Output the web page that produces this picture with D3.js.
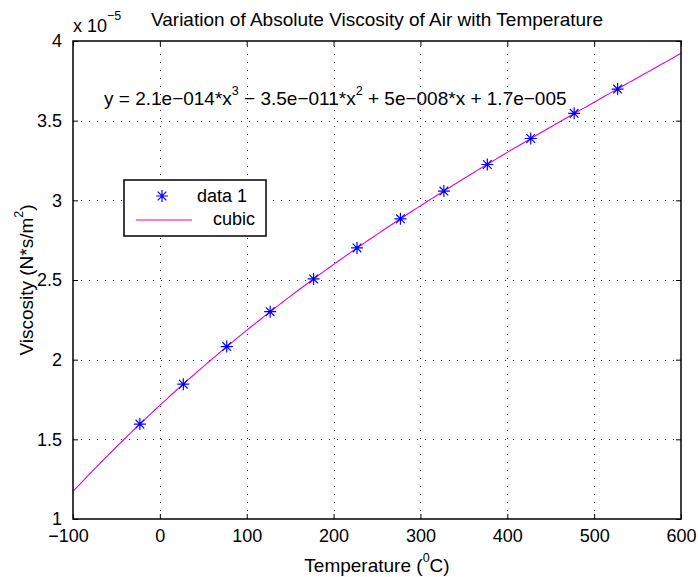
<!DOCTYPE html>
<html><head><meta charset="utf-8">
<script src="https://cdn.jsdelivr.net/npm/d3@7"></script>
<style>
html,body{margin:0;padding:0;background:#fff;}
svg{display:block;font-family:"Liberation Sans",Arial,Helvetica,sans-serif;}
</style></head>
<body>
<svg id="chart" width="698" height="577"></svg>
<script>
// Data (viscosity in units of 1e-5 N*s/m^2)
const temperatures = [-23, 27, 77, 127, 177, 227, 277, 327, 377, 427, 477, 527];
const viscosity = [1.596, 1.846, 2.082, 2.301, 2.507, 2.701, 2.884, 3.058, 3.225, 3.388, 3.546, 3.698];
const xTicks = [-100, 0, 100, 200, 300, 400, 500, 600];
const yTicks = [1, 1.5, 2, 2.5, 3, 3.5, 4];
const xDomain = [-100, 600];
const yDomain = [1, 4];
const titleText = "Variation of Absolute Viscosity of Air with Temperature";
const legendLabels = ["data 1", "cubic"];

// least squares cubic fit of the data (as MATLAB polyfit)
function polyfit(xs, ys, deg) {
  const n = deg + 1, s = 100;
  const A = Array.from({length: n}, () => new Array(n + 1).fill(0));
  xs.forEach((xv, k) => {
    const t = xv / s;
    for (let i = 0; i < n; i++) {
      for (let j = 0; j < n; j++) A[i][j] += Math.pow(t, i + j);
      A[i][n] += ys[k] * Math.pow(t, i);
    }
  });
  for (let i = 0; i < n; i++) {
    let p = i;
    for (let r = i + 1; r < n; r++) if (Math.abs(A[r][i]) > Math.abs(A[p][i])) p = r;
    [A[i], A[p]] = [A[p], A[i]];
    for (let r = 0; r < n; r++) {
      if (r === i) continue;
      const f = A[r][i] / A[i][i];
      for (let c = i; c <= n; c++) A[r][c] -= f * A[i][c];
    }
  }
  const coef = A.map((row, i) => row[n] / row[i]);
  return xv => coef.reduce((acc, c, i) => acc + c * Math.pow(xv / s, i), 0);
}
const cubic = polyfit(temperatures, viscosity, 3);

const svg = d3.select("#chart");
const m = {left: 73, right: 681, top: 41, bottom: 519};
const x = d3.scaleLinear().domain(xDomain).range([m.left, m.right]);
const y = d3.scaleLinear().domain(yDomain).range([m.bottom, m.top]);
const fs = 18, fsL = 19, sup = 12.5;

// grid
const grid = svg.append("g").attr("stroke", "#000").attr("stroke-width", 1)
  .attr("stroke-dasharray", "1,7").attr("opacity", 0.8);
xTicks.slice(1, -1).forEach(t => grid.append("line")
  .attr("x1", Math.round(x(t)) + 0.5).attr("x2", Math.round(x(t)) + 0.5)
  .attr("y1", m.bottom).attr("y2", m.top));
yTicks.slice(1, -1).forEach(t => grid.append("line")
  .attr("y1", Math.round(y(t)) + 0.5).attr("y2", Math.round(y(t)) + 0.5)
  .attr("x1", m.left).attr("x2", m.right));

// axes
const fmt = d => (d < 0 ? "\u2212" + Math.abs(d) : String(d));
const xAxis = svg.append("g").attr("transform", `translate(0,${m.bottom})`)
  .call(d3.axisBottom(x).tickValues(xTicks).tickSizeInner(-5).tickSizeOuter(0).tickPadding(10).tickFormat(fmt));
const xAxisTop = svg.append("g").attr("transform", `translate(0,${m.top})`)
  .call(d3.axisTop(x).tickValues(xTicks).tickSizeInner(-5).tickSizeOuter(0).tickFormat(""));
const yAxis = svg.append("g").attr("transform", `translate(${m.left},0)`)
  .call(d3.axisLeft(y).tickValues(yTicks).tickSizeInner(-5).tickSizeOuter(0).tickPadding(11).tickFormat(d => String(d)));
const yAxisR = svg.append("g").attr("transform", `translate(${m.right},0)`)
  .call(d3.axisRight(y).tickValues(yTicks).tickSizeInner(-5).tickSizeOuter(0).tickFormat(""));
[xAxis, xAxisTop, yAxis, yAxisR].forEach(g => {
  g.selectAll("path.domain").remove();
  g.selectAll("line").attr("stroke", "#000");
  g.selectAll("text").attr("font-size", fs).attr("fill", "#000")
    .attr("font-family", "'Liberation Sans',Arial,sans-serif");
});
xAxis.selectAll("text").attr("y", 0).attr("dy", 0)
  .attr("transform", d => `translate(${d < 0 ? -5 : 0},23)`);

// curve
const curveX = d3.range(0, 201).map(i => xDomain[0] + (xDomain[1] - xDomain[0]) * i / 200);
svg.append("path")
  .datum(curveX)
  .attr("fill", "none").attr("stroke", "#e000e0").attr("stroke-width", 1.1)
  .attr("d", d3.line().x(d => x(d)).y(d => y(cubic(d))));

// star markers
function star(g, cx, cy, r) {
  const d = r * 0.72;
  g.append("path")
    .attr("d", `M${cx - r},${cy}L${cx + r},${cy}M${cx},${cy - r}L${cx},${cy + r}` +
      `M${cx - d},${cy - d}L${cx + d},${cy + d}M${cx - d},${cy + d}L${cx + d},${cy - d}`)
    .attr("stroke", "#0000ff").attr("stroke-width", 1.2).attr("fill", "none");
}
const marks = svg.append("g");
temperatures.forEach((t, i) => star(marks, x(t), y(viscosity[i]), 6));

// box
svg.append("rect").attr("x", m.left).attr("y", m.top)
  .attr("width", m.right - m.left).attr("height", m.bottom - m.top)
  .attr("fill", "none").attr("stroke", "#000").attr("stroke-width", 1.5);

// title
svg.append("text").attr("x", (m.left + m.right) / 2).attr("y", 25.5)
  .attr("text-anchor", "middle").attr("font-size", fsL).text(titleText);

// exponent
const ex = svg.append("text").attr("x", m.left).attr("y", 31.5).attr("font-size", fs);
ex.append("tspan").text("x 10");
ex.append("tspan").attr("dy", -12).attr("font-size", sup).text("\u22125");

// equation
const eq = svg.append("text").attr("x", 104).attr("y", 105).attr("font-size", fsL);
eq.append("tspan").text("y = 2.1e\u2212014*x");
eq.append("tspan").attr("dy", -10).attr("font-size", sup).text("3");
eq.append("tspan").attr("dy", 10).text(" \u2212 3.5e\u2212011*x");
eq.append("tspan").attr("dy", -10).attr("font-size", sup).text("2");
eq.append("tspan").attr("dy", 10).text(" + 5e\u2212008*x + 1.7e\u2212005");

// axis labels
const xl = svg.append("text").attr("x", (m.left + m.right) / 2).attr("y", 571.5)
  .attr("text-anchor", "middle").attr("font-size", fsL);
xl.append("tspan").text("Temperature (");
xl.append("tspan").attr("dy", -10).attr("font-size", sup).text("0");
xl.append("tspan").attr("dy", 10).text("C)");

const yl = svg.append("text").attr("transform", `translate(33,${(m.top + m.bottom) / 2}) rotate(-90)`)
  .attr("text-anchor", "middle").attr("font-size", fsL);
yl.append("tspan").text("Viscosity (N*s/m");
yl.append("tspan").attr("dy", -10).attr("font-size", sup).text("2");
yl.append("tspan").attr("dy", 10).text(")");

// legend
const lg = svg.append("g");
lg.append("rect").attr("x", 124).attr("y", 180).attr("width", 142).attr("height", 56)
  .attr("fill", "#fff").attr("stroke", "#000").attr("stroke-width", 1.5);
star(lg, 162, 196, 6);
lg.append("text").attr("x", 197).attr("y", 201.5).attr("font-size", fs).text(legendLabels[0]);
lg.append("line").attr("x1", 136).attr("x2", 192).attr("y1", 220).attr("y2", 220)
  .attr("stroke", "#e000e0").attr("stroke-width", 1.1);
lg.append("text").attr("x", 213).attr("y", 225).attr("font-size", fs).text(legendLabels[1]);
</script>
</body></html>
